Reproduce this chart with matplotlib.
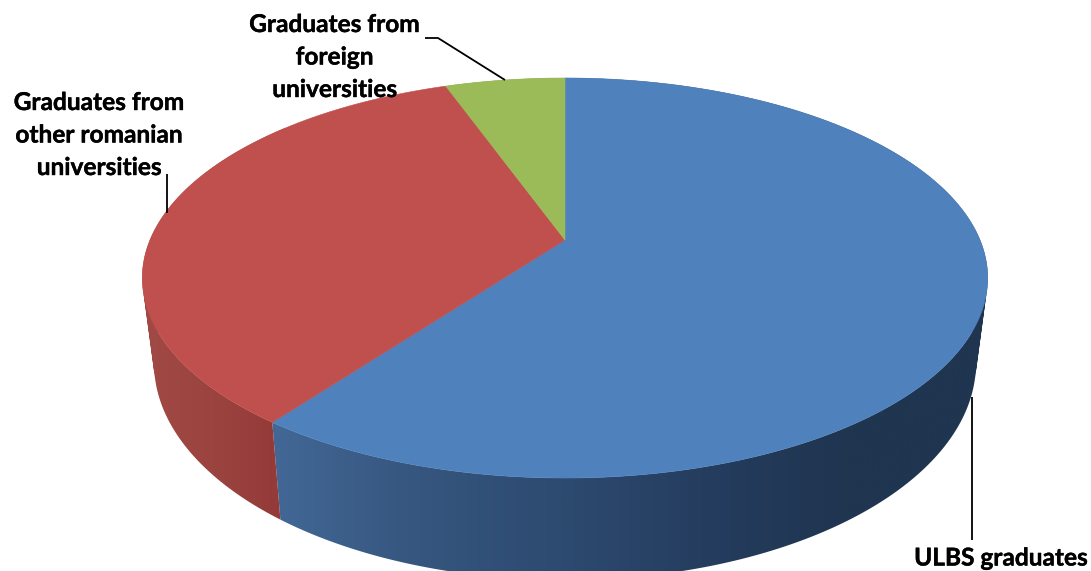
import numpy as np
import matplotlib
matplotlib.use("Agg")
import matplotlib.pyplot as plt
import matplotlib.patheffects as pe
from matplotlib.path import Path
from matplotlib.colors import LinearSegmentedColormap

# Share of graduates per origin, clockwise from twelve o'clock
categories = ["ULBS graduates",
              "Graduates from\nother romanian\nuniversities",
              "Graduates from\nforeign\nuniversities"]
shares = [60.2, 34.3, 5.5]
top_colors = ["#4f81bd", "#c0504d", "#9bbb59"]

# Perspective of the disc, in pixels
cx = 565
persp = 0.19
top_plane = dict(y0=240, ky=192.8, kx=415)
bottom_plane = dict(y0=322, ky=209, kx=403.5)


def project(theta, plane):
    # theta is clockwise from the far side of the disc
    u, v = np.sin(theta), np.cos(theta)
    den = 1 + persp * v
    return cx + plane["kx"] * u / den, plane["y0"] - plane["ky"] * v / den


def quad_path(pts):
    # same winding for every quad, so the compound clip is a plain union
    xs, ys = zip(*pts)
    area = sum(xs[k] * ys[(k + 1) % 4] - xs[(k + 1) % 4] * ys[k] for k in range(4))
    if area < 0:
        pts = pts[::-1]
    return Path(pts + [pts[0]], closed=True)


plt.rcParams["font.family"] = ["Lato", "DejaVu Sans"]
fig = plt.figure(figsize=(10.91, 5.71), dpi=100)
ax = fig.add_axes([0, 0, 1, 1])
ax.axis("off")

# Horizontal shading of the side wall, by screen x
wall_cmaps = [
    LinearSegmentedColormap.from_list("blue_wall", [(0, "#436896"), (0.17, "#375881"), (0.4, "#2d4a70"),
                                                    (0.62, "#243c5d"), (0.8, "#1f3550"), (1, "#1f3550")]),
    LinearSegmentedColormap.from_list("red_wall", [(0, "#a24a45"), (0.6, "#9a423e"), (1, "#933a38")]),
    LinearSegmentedColormap.from_list("green_wall", ["#7a9446", "#7a9446"]),
]
x_ranges = [(272, 995), (135, 285), (440, 565)]

edges = np.radians(np.concatenate([[0], np.cumsum(shares)]) * 3.6)
ramp = np.linspace(0, 1, 512)[None, :]

# Side wall first: a gradient image clipped to the union of thin quads
for i in [2, 0, 1]:
    n = max(int(np.degrees(edges[i + 1] - edges[i]) * 2), 2)
    thetas = np.linspace(edges[i], edges[i + 1], n)
    tx, ty = project(thetas, top_plane)
    bx, by = project(thetas, bottom_plane)
    quads = [quad_path([(tx[j], ty[j]), (tx[j + 1], ty[j + 1]), (bx[j + 1], by[j + 1]), (bx[j], by[j])])
             for j in range(n - 1)]
    lo, hi = x_ranges[i]
    im = ax.imshow(ramp, cmap=wall_cmaps[i], extent=(lo, hi, 571, 0), aspect="auto",
                   vmin=0, vmax=1, zorder=1 + i * 0.1)
    im.set_clip_path(Path.make_compound_path(*quads), ax.transData)

ax.set_xlim(0, 1091)
ax.set_ylim(571, 0)

# Top face of the pie
apex = (cx, top_plane["y0"])
for i in range(len(shares)):
    thetas = np.linspace(edges[i], edges[i + 1], 300)
    tx, ty = project(thetas, top_plane)
    ax.fill(np.r_[apex[0], tx], np.r_[apex[1], ty], color=top_colors[i], lw=0.4, zorder=3)

# Leader lines
leader = dict(color="black", lw=1.3, zorder=4, solid_capstyle="butt")
ax.plot([425, 438, 505], [38, 38, 80], **leader)
ax.plot([167, 167], [174, 213], **leader)
ax.plot([972, 972], [397, 540], **leader)

# Category labels
label_style = dict(ha="center", va="center", fontsize=17.6, fontweight="bold",
                   color="black", linespacing=1.5, zorder=5,
                   path_effects=[pe.withStroke(linewidth=0.3, foreground="black")])
ax.text(334.5, 57, categories[2], **label_style)
ax.text(99, 135, categories[1], **label_style)
ax.text(1001, 558, categories[0], **label_style)

fig.savefig("out.png", dpi=100)
